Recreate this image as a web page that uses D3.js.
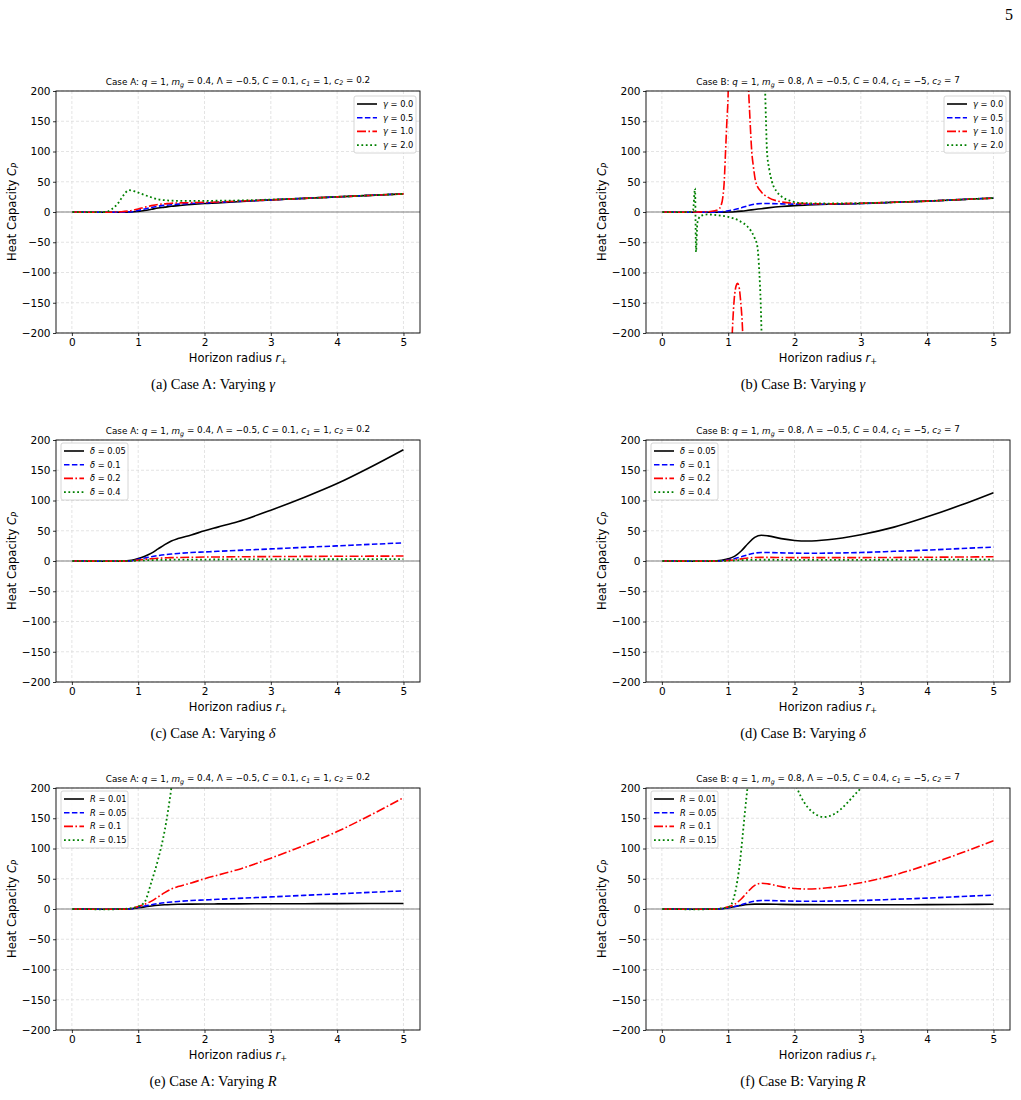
<!DOCTYPE html>
<html>
<head>
<meta charset="utf-8">
<script src="https://cdn.jsdelivr.net/npm/d3@7"></script>
<style>
  body { margin: 0; background: #fff; }
  svg { display: block; }
</style>
</head>
<body>
<div id="fig"></div>
<script>
// shared radius grid for the smooth curves
var rGrid = [0.01, 0.25, 0.5, 0.75, 0.9, 1.0, 1.1, 1.2, 1.3, 1.4, 1.5, 1.6, 1.8, 2.0, 2.2, 2.5, 3.0, 3.5, 4.0, 4.5, 5.0];

// Case A, varying gamma
var A_g0  = [0, -0.3, -0.5, -0.3, 0, 1, 2.5, 4.5, 6.5, 8, 9.5, 10.5, 12.5, 14, 15, 17, 20, 22.5, 25, 27.5, 30];
var A_g05 = [0, -0.3, -0.5, -0.3, 0.5, 2.5, 5, 7.5, 9.5, 11, 12, 13, 14, 15, 16, 17.5, 20, 22.5, 25, 27.5, 30];
var A_g1  = [0, -0.3, -0.3, 0.5, 2.5, 5, 8, 10.5, 12.5, 13.5, 14.5, 15, 15.5, 16, 16.5, 18, 20, 22.5, 25, 27.5, 30];
var rA_g2 = [0.01, 0.25, 0.5, 0.6, 0.7, 0.78, 0.86, 0.95, 1.05, 1.15, 1.35, 1.6, 2.0, 2.5, 3.0, 3.5, 4.0, 4.5, 5.0];
var A_g2  = [0, -0.2, 0, 4.5, 15, 28, 36, 34, 30, 26, 20, 18.5, 18.5, 19, 20.5, 22.5, 25, 27.5, 30];

// Case A, varying delta
var A_d005 = [0, -0.3, -0.5, -0.3, 1, 4, 8, 13, 20, 27, 33, 37, 43, 50, 56, 65, 84, 105, 128, 155, 184];
var A_d01  = [0, -0.3, -0.5, -0.3, 0.5, 3, 5, 7, 9, 10.5, 11.5, 12.5, 14, 15, 16, 17.5, 20, 22.5, 25, 27.5, 30];
var A_d02  = [0, -0.2, -0.3, -0.2, 0.3, 1.5, 2.8, 3.8, 4.6, 5.1, 5.5, 5.8, 6.2, 6.5, 6.7, 7, 7.3, 7.6, 7.8, 8, 8.2];
var A_d04  = [0, -0.1, -0.1, 0, 0.2, 0.8, 1.2, 1.5, 1.8, 2, 2.1, 2.2, 2.3, 2.4, 2.5, 2.6, 2.7, 2.8, 2.9, 3, 3];

// Case A, varying R
var A_R001 = [0, -0.2, -0.3, -0.2, 0.5, 2, 3.5, 5, 6.2, 7, 7.5, 7.8, 8.1, 8.3, 8.4, 8.5, 8.7, 8.8, 8.9, 9, 9.1];
var A_R005 = A_d01;
var A_R01  = A_d005;
var rA_R015 = [0.01, 0.25, 0.5, 0.75, 0.9, 1.0, 1.1, 1.2, 1.3, 1.4, 1.5, 1.6];
var A_R015  = [0, -0.3, -0.5, -0.2, 1.5, 4, 12, 45, 82, 130, 200, 290];

// Case B, varying gamma (null = break at a divergence)
var B_g0  = [0, -0.3, -0.5, -0.5, -0.3, 0, 0.5, 1.5, 2.8, 4.2, 5.5, 6.8, 9, 10.5, 11.5, 12.8, 14, 16, 18, 20.5, 23];
var B_g05 = [0, -0.3, -0.5, -0.3, 0.5, 2, 4, 7, 10.5, 13, 14, 14, 13.5, 13, 12.8, 13, 14, 16, 18, 20.5, 23];
var rB_g1 = [0.01, 0.25, 0.5, 0.7, 0.8, 0.85, 0.89, 0.92, 0.94, 0.96, 0.98, 1.0, 1.01, 1.03,
             1.05, 1.07, 1.09, 1.12, 1.14, 1.16, 1.19, 1.21, 1.23, 1.27,
             1.30, 1.33, 1.355, 1.38, 1.415, 1.5, 1.59, 1.79, 2.0, 2.5, 3.0, 3.5, 4.0, 4.5, 5.0];
var B_g1  = [0, -0.3, 0, 0.5, 2, 4, 10, 25, 50, 100, 150, 200, 260, null,
             -230, -180, -145, -122, -118, -122, -150, -180, -230, null,
             220, 150, 100, 75, 50, 33, 25, 17, 14.5, 13.5, 14.5, 16, 18, 20.5, 23];
var rB_g2 = [0.01, 0.25, 0.4, 0.47, 0.5, 0.515, 0.535, 0.585, 0.685, 0.885, 1.0, 1.19, 1.29, 1.39, 1.44, 1.47, 1.49, 1.505, 1.53,
             1.555, 1.57, 1.585, 1.62, 1.66, 1.73, 1.81, 1.95, 2.08, 2.5, 3.0, 3.5, 4.0, 4.5, 5.0];
var B_g2  = [0, -0.3, 0, 3, 39, -66, -18, -6.6, -4, -6, -8, -16, -24, -41, -57, -101, -150, -210, null,
             210, 150, 100, 70, 50, 34, 25, 18, 15, 14, 14.5, 16, 18, 20.5, 23];

// Case B, varying delta
var B_d005 = [0, -0.3, -0.5, -0.3, 1, 3.5, 8, 17, 29, 39, 42.5, 41.5, 37, 34, 33, 35, 43.5, 56, 73, 92, 113];
var B_d01  = [0, -0.3, -0.5, -0.3, 0.5, 2, 4, 7, 10.5, 13, 14, 14, 13.5, 13, 12.8, 13, 14, 16, 18, 20.5, 23];
var B_d02  = [0, -0.2, -0.3, -0.2, 0.3, 1, 2, 3.5, 5, 5.8, 6, 6, 5.8, 5.6, 5.5, 5.5, 5.6, 5.9, 6.2, 6.6, 7];
var B_d04  = [0, -0.1, -0.1, 0, 0.2, 0.5, 1, 1.5, 1.8, 2, 2.1, 2.1, 2, 2, 2, 2, 2, 2.1, 2.2, 2.3, 2.4];

// Case B, varying R
var B_R001 = [0, -0.2, -0.3, -0.2, 0.5, 2, 4, 6, 7.5, 8, 8, 8, 7.6, 7.3, 7.2, 7, 7, 7, 7.2, 7.5, 7.8];
var B_R005 = B_d01;
var B_R01  = B_d005;
var rB_R015 = [0.01, 0.25, 0.5, 0.75, 0.9, 1.0, 1.05, 1.1, 1.14, 1.18, 1.215, 1.25, 1.29, 1.33, 1.65,
               2.0, 2.04, 2.1, 2.2, 2.3, 2.44, 2.6, 2.7, 2.8, 2.9, 3.0, 3.05];
var B_R015  = [0, -0.3, -0.5, -0.2, 1, 3, 8, 25, 48, 80, 118, 158, 200, 240, 400,
               215, 200, 185, 168, 158, 152, 157, 165, 176, 188, 200, 208];

var xTicks = [0, 1, 2, 3, 4, 5];
var yTicks = [-200, -150, -100, -50, 0, 50, 100, 150, 200];

var titleA = [["Case A: "], ["q", "i"], [" = 1, "], ["m", "i"], ["g", "s"], [" = 0.4, Λ = −0.5, "], ["C", "i"], [" = 0.1, "], ["c", "i"], ["1", "s"], [" = 1, "], ["c", "i"], ["2", "s"], [" = 0.2"]];
var titleB = [["Case B: "], ["q", "i"], [" = 1, "], ["m", "i"], ["g", "s"], [" = 0.8, Λ = −0.5, "], ["C", "i"], [" = 0.4, "], ["c", "i"], ["1", "s"], [" = −5, "], ["c", "i"], ["2", "s"], [" = 7"]];

var styles = [
  {color: "#000000", dash: null, w: 1.6},
  {color: "#0000ff", dash: "5.5,2.4", w: 1.6},
  {color: "#ff0000", dash: "9,2.4,1.6,2.4", w: 1.6},
  {color: "#008000", dash: "1.8,2.6", w: 1.8}
];

var panels = [
  {px: 56, py: 91, title: titleA, cap: "(a) Case A: Varying ", sym: "γ", legend: "right",
   series: [[rGrid, A_g0, "0.0"], [rGrid, A_g05, "0.5"], [rGrid, A_g1, "1.0"], [rA_g2, A_g2, "2.0"]]},
  {px: 646, py: 91, title: titleB, cap: "(b) Case B: Varying ", sym: "γ", legend: "right",
   series: [[rGrid, B_g0, "0.0"], [rGrid, B_g05, "0.5"], [rB_g1, B_g1, "1.0"], [rB_g2, B_g2, "2.0"]]},
  {px: 56, py: 440, title: titleA, cap: "(c) Case A: Varying ", sym: "δ", legend: "left",
   series: [[rGrid, A_d005, "0.05"], [rGrid, A_d01, "0.1"], [rGrid, A_d02, "0.2"], [rGrid, A_d04, "0.4"]]},
  {px: 646, py: 440, title: titleB, cap: "(d) Case B: Varying ", sym: "δ", legend: "left",
   series: [[rGrid, B_d005, "0.05"], [rGrid, B_d01, "0.1"], [rGrid, B_d02, "0.2"], [rGrid, B_d04, "0.4"]]},
  {px: 56, py: 788, title: titleA, cap: "(e) Case A: Varying ", sym: "R", legend: "left",
   series: [[rGrid, A_R001, "0.01"], [rGrid, A_R005, "0.05"], [rGrid, A_R01, "0.1"], [rA_R015, A_R015, "0.15"]]},
  {px: 646, py: 788, title: titleB, cap: "(f) Case B: Varying ", sym: "R", legend: "left",
   series: [[rGrid, B_R001, "0.01"], [rGrid, B_R005, "0.05"], [rGrid, B_R01, "0.1"], [rB_R015, B_R015, "0.15"]]}
];

var W = 364, H = 242;
var sans = "'DejaVu Sans', sans-serif";
var serif = "'Liberation Serif', 'Times New Roman', serif";

var svg = d3.select("#fig").append("svg")
  .attr("width", 1021).attr("height", 1100);

// page number
svg.append("text").attr("x", 1005).attr("y", 20)
  .style("font-family", serif).style("font-size", "16px").text("5");

// write text made of pieces: plain, "i" italic, "s" italic subscript
function rich(t, parts) {
  var down = false;
  parts.forEach(function(p) {
    var ts = t.append("tspan").text(p[0]);
    if (p[1] == "i" || p[1] == "s") ts.style("font-style", "italic");
    if (p[1] == "s" && !down) { ts.attr("dy", "0.3em").style("font-size", "72%"); down = true; }
    else if (p[1] == "s") ts.style("font-size", "72%");
    else if (down) { ts.attr("dy", "-0.3em"); down = false; }
  });
}

panels.forEach(function(p, k) {
  var x = d3.scaleLinear().domain([-0.2395, 5.2495]).range([0, W]);
  var y = d3.scaleLinear().domain([-200, 200]).range([H, 0]);

  var g = svg.append("g").attr("transform", "translate(" + p.px + "," + p.py + ")");

  g.append("clipPath").attr("id", "clip" + k)
    .append("rect").attr("width", W).attr("height", H);

  // grid
  g.selectAll(".gx").data(xTicks).enter().append("line")
    .attr("x1", function(d) { return x(d); }).attr("x2", function(d) { return x(d); })
    .attr("y1", 0).attr("y2", H)
    .attr("stroke", "#d9d9d9").attr("stroke-width", 0.7).attr("stroke-dasharray", "3,2");
  g.selectAll(".gy").data(yTicks).enter().append("line")
    .attr("y1", function(d) { return y(d); }).attr("y2", function(d) { return y(d); })
    .attr("x1", 0).attr("x2", W)
    .attr("stroke", "#d9d9d9").attr("stroke-width", 0.7).attr("stroke-dasharray", "3,2");

  // zero line
  g.append("line").attr("x1", 0).attr("x2", W).attr("y1", y(0)).attr("y2", y(0))
    .attr("stroke", "#808080").attr("stroke-width", 1);

  var line = d3.line()
    .defined(function(d) { return d[1] != null; })
    .x(function(d) { return x(d[0]); })
    .y(function(d) { return y(d[1]); })
    .curve(d3.curveMonotoneX);

  var curves = g.append("g").attr("clip-path", "url(#clip" + k + ")");
  p.series.forEach(function(s, i) {
    var pts = s[0].map(function(r, j) { return [r, s[1][j]]; });
    curves.append("path").datum(pts)
      .attr("d", line)
      .attr("fill", "none")
      .attr("stroke", styles[i].color)
      .attr("stroke-width", styles[i].w)
      .attr("stroke-dasharray", styles[i].dash);
  });

  // axes
  var xa = g.append("g").attr("transform", "translate(0," + H + ")")
    .call(d3.axisBottom(x).tickValues(xTicks).tickSize(3).tickPadding(2.5).tickFormat(d3.format("d")));
  var ya = g.append("g")
    .call(d3.axisLeft(y).tickValues(yTicks).tickSize(3).tickPadding(2.5).tickFormat(function(d) { return d < 0 ? "−" + (-d) : d; }));
  [xa, ya].forEach(function(a) {
    a.select(".domain").remove();
    a.selectAll("text").style("font-family", sans).style("font-size", "10.5px").attr("fill", "#000");
    a.selectAll("line").attr("stroke", "#000").attr("stroke-width", 0.8);
  });
  g.append("rect").attr("width", W).attr("height", H)
    .attr("fill", "none").attr("stroke", "#000").attr("stroke-width", 0.9);

  // title
  var tt = g.append("text").attr("x", W / 2).attr("y", -6).attr("text-anchor", "middle")
    .style("font-family", sans).style("font-size", "8.8px");
  rich(tt, p.title);

  // axis labels
  var xl = g.append("text").attr("x", W / 2).attr("y", H + 29).attr("text-anchor", "middle")
    .style("font-family", sans).style("font-size", "11.5px");
  rich(xl, [["Horizon radius "], ["r", "i"], ["+", "s"]]);
  var yl = g.append("text").attr("transform", "translate(-40," + (H / 2) + ") rotate(-90)")
    .attr("text-anchor", "middle")
    .style("font-family", sans).style("font-size", "11.5px");
  rich(yl, [["Heat Capacity "], ["C", "i"], ["P", "s"]]);

  // legend
  var lx = p.legend == "right" ? 298 : 5;
  var ly = p.legend == "right" ? 5 : 3;
  var lw = p.legend == "right" ? 62 : 67;
  var lg = g.append("g").attr("transform", "translate(" + lx + "," + ly + ")");
  lg.append("rect").attr("width", lw).attr("height", 57).attr("rx", 2)
    .attr("fill", "#fff").attr("fill-opacity", 0.85).attr("stroke", "#cccccc").attr("stroke-width", 0.8);
  p.series.forEach(function(s, i) {
    var yy = 8 + i * 13.7;
    lg.append("line").attr("x1", 3).attr("x2", 23).attr("y1", yy).attr("y2", yy)
      .attr("stroke", styles[i].color).attr("stroke-width", styles[i].w)
      .attr("stroke-dasharray", styles[i].dash);
    var lt = lg.append("text").attr("x", 29).attr("y", yy + 3)
      .style("font-family", sans).style("font-size", "8.3px");
    rich(lt, [[p.sym, "i"], [" = " + s[2]]]);
  });

  // caption
  var cx = p.px < 300 ? 213 : 803;
  var ct = svg.append("text").attr("x", cx).attr("y", p.py + H + 56).attr("text-anchor", "middle")
    .style("font-family", serif).style("font-size", "14.5px");
  rich(ct, [[p.cap], [p.sym, "i"]]);
});
</script>
</body>
</html>
